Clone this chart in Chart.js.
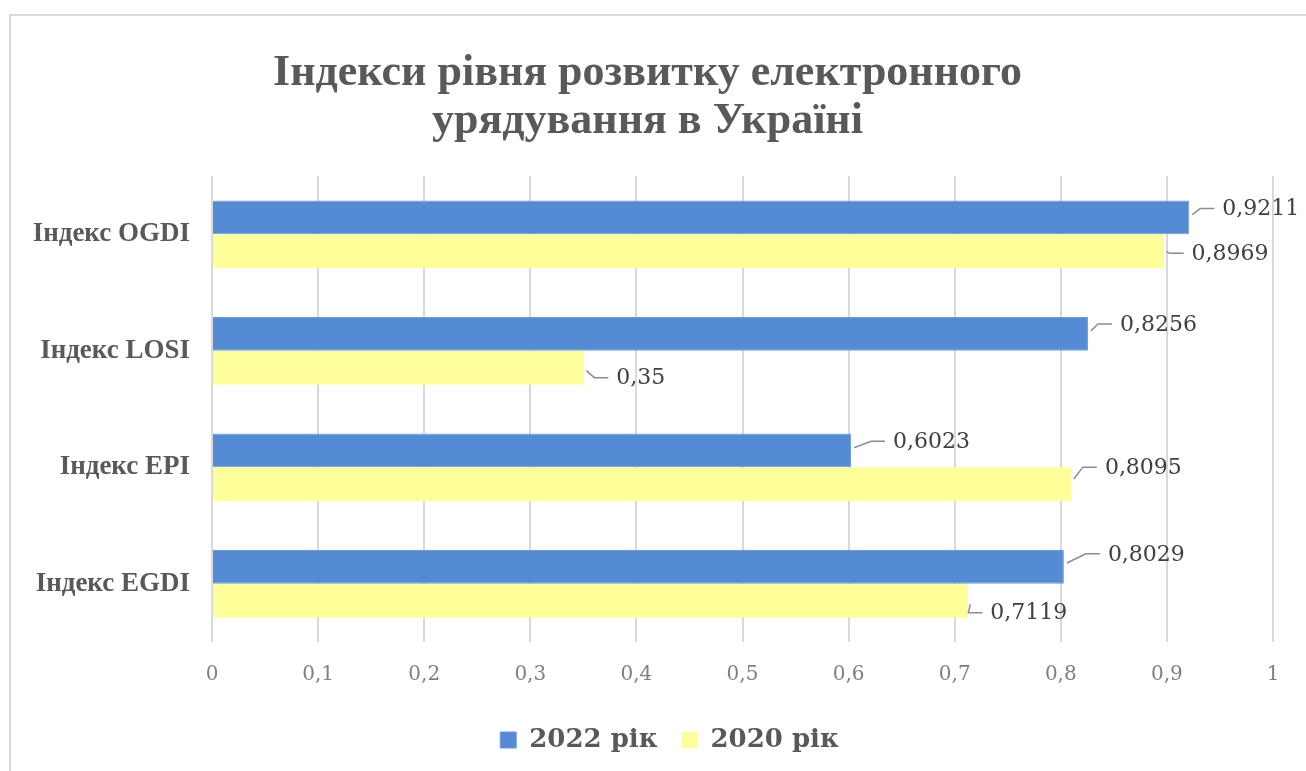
<!DOCTYPE html>
<html lang="uk">
  <head>
    <meta charset="UTF-8" />
    <title>Індекси рівня розвитку електронного урядування в Україні</title>
    <script src="https://cdn.jsdelivr.net/npm/chart.js"></script>
    <style>
      html, body { margin: 0; padding: 0; background: #fff; overflow: hidden; }
      .wrap { position: relative; width: 1306px; height: 771px; }
      .frame {
        position: absolute; left: 9px; top: 14px; width: 1400px; height: 900px;
        border-left: 2px solid #d9d9d9; border-top: 2px solid #d9d9d9;
      }
      canvas { position: absolute; left: 0; top: 0; }
    </style>
  </head>
  <body>
    <div class="wrap">
      <div class="frame"></div>
      <canvas id="chart" width="1306" height="771"></canvas>
    </div>
    <script>
      const categories = ["Індекс OGDI", "Індекс LOSI", "Індекс EPI", "Індекс EGDI"];
      const seriesNames = ["2022 рік", "2020 рік"];
      const values2022 = [0.9211, 0.8256, 0.6023, 0.8029];
      const values2020 = [0.8969, 0.35, 0.8095, 0.7119];
      const xTicks = [0, 0.1, 0.2, 0.3, 0.4, 0.5, 0.6, 0.7, 0.8, 0.9, 1];

      // where each value label sits relative to the end of its bar: [dx, dy]
      const labelNudge = [
        [[33, -9], [32, -10], [42, -9], [44, -13]],
        [[28, 2], [33, 10], [34, -17], [23, 12]],
      ];

      const comma = (v) => String(v).replace(".", ",");

      const valueLabels = {
        id: "valueLabels",
        afterDatasetsDraw(chart) {
          const ctx = chart.ctx;
          ctx.save();
          ctx.font = "22px 'DejaVu Serif'";
          ctx.fillStyle = "#404040";
          ctx.strokeStyle = "#8c8c8c";
          ctx.lineWidth = 1.5;
          ctx.textBaseline = "middle";
          ctx.textAlign = "left";
          chart.data.datasets.forEach((ds, di) => {
            chart.getDatasetMeta(di).data.forEach((bar, i) => {
              const [dx, dy] = labelNudge[di][i];
              const tx = bar.x + dx;
              const ty = bar.y + dy;
              ctx.beginPath();
              ctx.moveTo(bar.x + 3, bar.y + dy * 0.3);
              ctx.lineTo(tx - 22, ty);
              ctx.lineTo(tx - 8, ty);
              ctx.stroke();
              ctx.fillText(comma(ds.data[i]), tx, ty + 1);
            });
          });
          ctx.restore();
        },
      };

      // the legend sits a little right of the chart centre in the original
      const legendShift = {
        id: "legendShift",
        afterLayout(chart) {
          chart.legend.left += 22;
          chart.legend.right += 22;
        },
      };

      new Chart(document.getElementById("chart"), {
        type: "bar",
        data: {
          labels: categories,
          datasets: [
            {
              label: seriesNames[0],
              data: values2022,
              backgroundColor: "#558bd4",
              borderColor: "#6b9ade",
              borderWidth: 1,
            },
            {
              label: seriesNames[1],
              data: values2020,
              backgroundColor: "#ffff99",
              borderColor: "#ffff99",
              borderWidth: 0,
            },
          ],
        },
        options: {
          indexAxis: "y",
          responsive: false,
          animation: false,
          categoryPercentage: 0.58,
          barPercentage: 1,
          layout: { padding: { left: 22, right: 33, top: 0, bottom: 8 } },
          plugins: {
            tooltip: { enabled: false },
            title: {
              display: true,
              text: [
                "Індекси рівня розвитку електронного",
                "урядування в Україні",
              ],
              color: "#595959",
              font: { family: "'Liberation Serif'", size: 44, weight: "bold", lineHeight: 1.08 },
              padding: { top: 50, bottom: 31 },
            },
            legend: {
              position: "bottom",
              labels: {
                color: "#595959",
                font: { family: "'DejaVu Serif'", size: 26, weight: "bold" },
                boxWidth: 16,
                boxHeight: 16,
                padding: 24,
              },
            },
          },
          scales: {
            x: {
              min: 0,
              max: 1,
              afterBuildTicks: (scale) => {
                scale.ticks = xTicks.map((v) => ({ value: v }));
              },
              afterFit: (scale) => { scale.height = 61; },
              ticks: {
                color: "#7f7f7f",
                font: { family: "'DejaVu Serif'", size: 20 },
                padding: 21,
                callback: (v) => comma(Math.round(v * 10) / 10),
              },
              grid: { color: "#d9d9d9", lineWidth: 2, drawTicks: false },
              border: { display: false },
            },
            y: {
              afterFit: (scale) => { scale.width = 190; },
              ticks: {
                color: "#595959",
                font: { family: "'Liberation Serif'", size: 27, weight: "bold" },
                padding: 14,
              },
              grid: { display: false },
              border: { display: false },
            },
          },
        },
        plugins: [valueLabels, legendShift],
      });
    </script>
  </body>
</html>
